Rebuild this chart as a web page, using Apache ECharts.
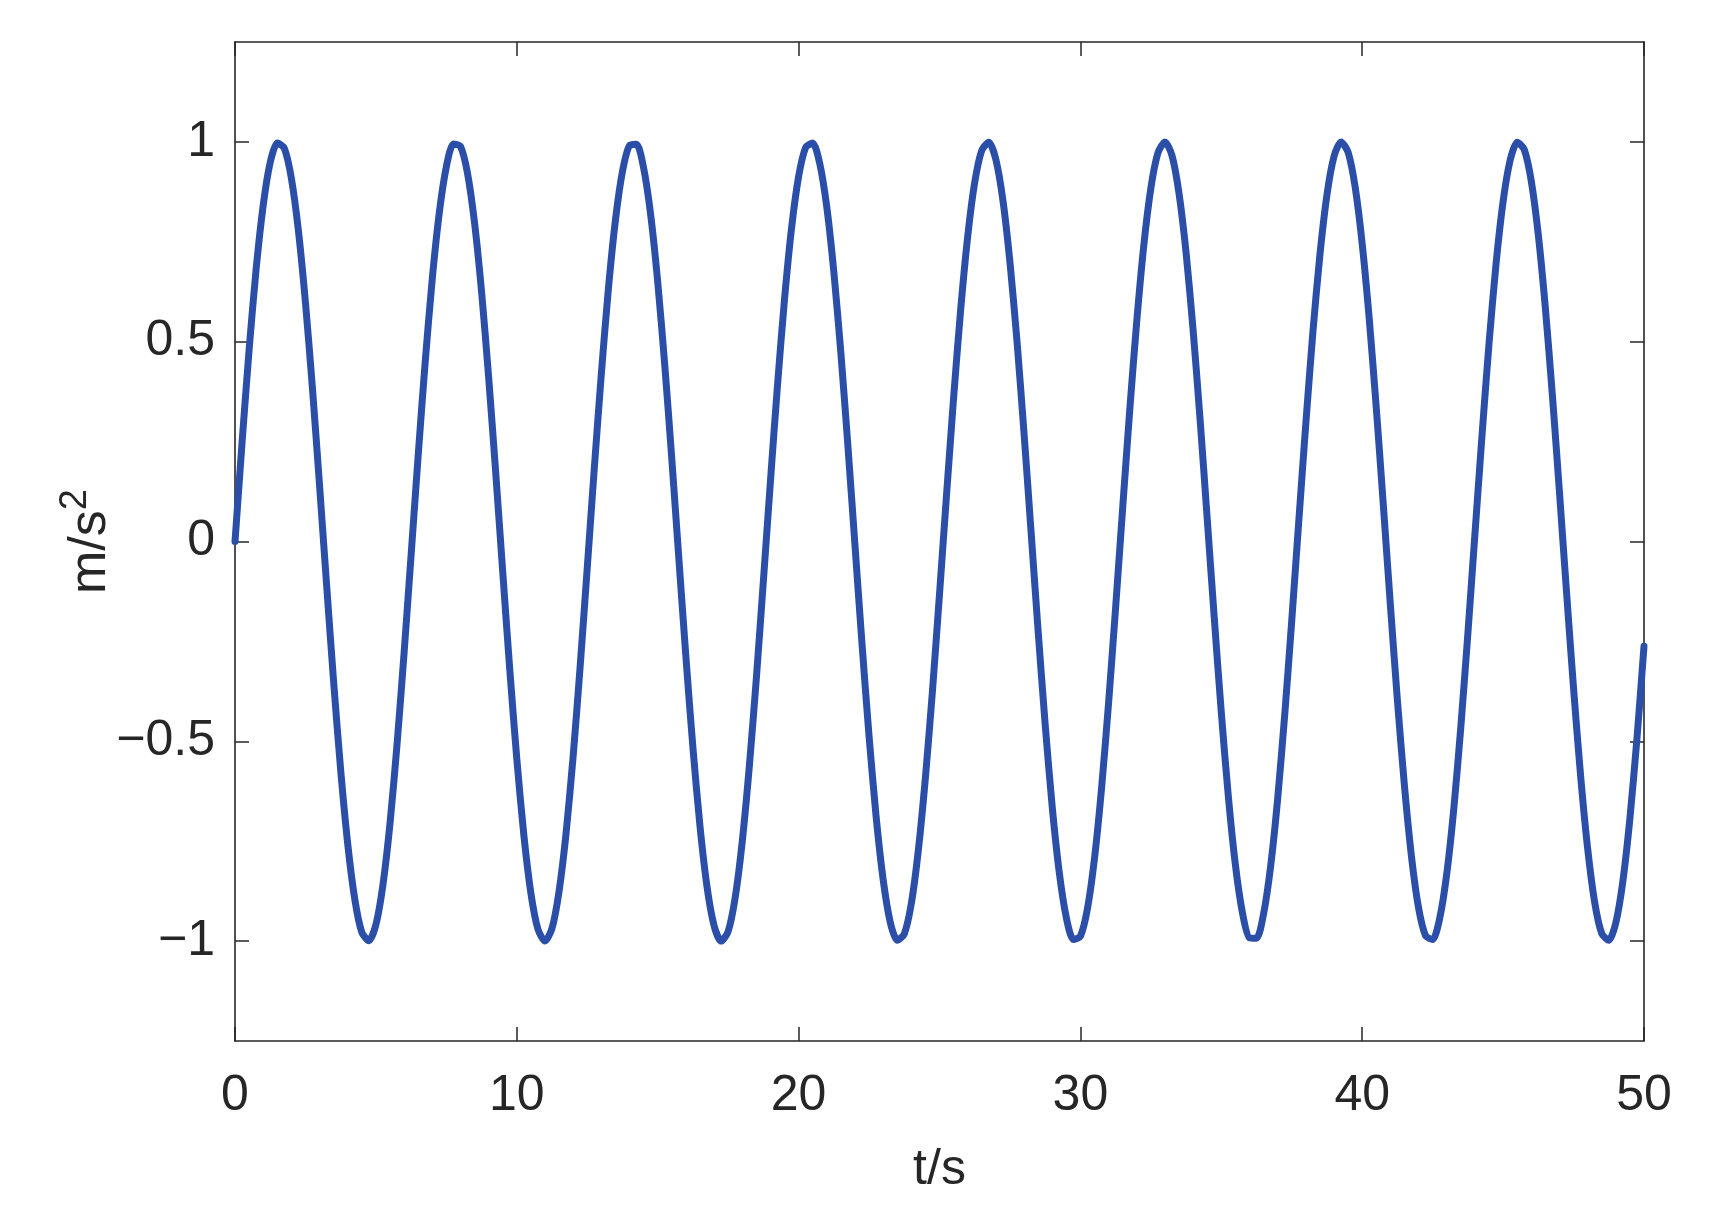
<!DOCTYPE html>
<html>
<head>
<meta charset="utf-8">
<script src="https://cdn.jsdelivr.net/npm/echarts@6/dist/echarts.min.js"></script>
<style>
html,body{margin:0;padding:0;background:#fff;}
#chart{width:1713px;height:1215px;}
</style>
</head>
<body>
<div id="chart"></div>
<script>
// time samples (s), every 0.25 s from 0 to 50
var times = [];
for (var i = 0; i <= 200; i++) times.push(i * 0.25);
// acceleration (m/s^2) at each time sample
var accel = [
 0.000, 0.247, 0.479, 0.682, 0.841, 0.949, 0.997, 0.984, 0.909, 0.778, 0.598, 0.382, 0.141,
 -0.108, -0.351, -0.572, -0.757, -0.895, -0.978, -0.999, -0.959, -0.859, -0.706, -0.508, -0.279, -0.033,
 0.215, 0.450, 0.657, 0.823, 0.938, 0.995, 0.989, 0.922, 0.798, 0.625, 0.412, 0.174,
 -0.075, -0.320, -0.544, -0.735, -0.880, -0.970, -1.000, -0.968, -0.875, -0.729, -0.537, -0.311, -0.066,
 0.183, 0.420, 0.632, 0.804, 0.926, 0.991, 0.994, 0.935, 0.818, 0.650, 0.442, 0.207,
 -0.042, -0.288, -0.516, -0.712, -0.864, -0.961, -1.000, -0.976, -0.891, -0.751, -0.564, -0.343, -0.099,
 0.150, 0.390, 0.606, 0.784, 0.913, 0.986, 0.997, 0.946, 0.837, 0.675, 0.472, 0.239,
 -0.009, -0.256, -0.487, -0.688, -0.846, -0.952, -0.998, -0.982, -0.906, -0.772, -0.591, -0.374, -0.132,
 0.117, 0.359, 0.579, 0.763, 0.899, 0.979, 0.999, 0.956, 0.854, 0.699, 0.501, 0.271, 0.024,
 -0.224, -0.458, -0.664, -0.828, -0.941, -0.996, -0.988, -0.919, -0.793, -0.618, -0.404, -0.165,
 0.084, 0.328, 0.551, 0.741, 0.884, 0.972, 1.000, 0.966, 0.871, 0.723, 0.529, 0.303, 0.057,
 -0.191, -0.428, -0.638, -0.809, -0.929, -0.992, -0.993, -0.932, -0.813, -0.644, -0.434, -0.198,
 0.051, 0.296, 0.524, 0.718, 0.868, 0.964, 1.000, 0.974, 0.887, 0.745, 0.557, 0.334, 0.091,
 -0.159, -0.398, -0.612, -0.789, -0.917, -0.987, -0.996, -0.943, -0.832, -0.669, -0.464, -0.230,
 0.018, 0.264, 0.495, 0.695, 0.851, 0.954, 0.999, 0.981, 0.902, 0.767, 0.584, 0.365, 0.124,
 -0.126, -0.367, -0.586, -0.768, -0.903, -0.981, -0.998, -0.954, -0.850, -0.693, -0.493, -0.262
];
var xTicks = [0, 10, 20, 30, 40, 50];
var yTicks = [-1, -0.5, 0, 0.5, 1];
var xName = 't/s';
var yName = 'm/s';

var seriesData = times.map(function (t, i) { return [t, accel[i]]; });
var FONT = 'Liberation Sans';
var TXT = '#262626';
var LINE = '#262626';
function fmt(v) { return String(v).replace('-', '\u2212'); }

var chart = echarts.init(document.getElementById('chart'), null, {renderer: 'canvas'});
function axLine() { return {show: true, onZero: false, lineStyle: {color: LINE, width: 1.6}}; }
function axTick(vals) {
  var t = {show: true, inside: true, length: 14, lineStyle: {color: LINE, width: 1.5}};
  if (vals) t.customValues = vals;
  return t;
}
chart.setOption({
  backgroundColor: '#ffffff',
  animation: false,
  grid: {left: 235, right: 69, top: 42, bottom: 174, containLabel: false},
  xAxis: [{
    type: 'value', min: 0, max: 50, interval: 10, position: 'bottom',
    axisLine: axLine(), axisTick: axTick(),
    axisLabel: {show: true, color: TXT, fontFamily: FONT, fontSize: 50, margin: 30, formatter: fmt,
      customValues: xTicks},
    splitLine: {show: false},
    name: xName, nameLocation: 'middle', nameGap: 104, nameMoveOverlap: false,
    nameTextStyle: {color: TXT, fontFamily: FONT, fontSize: 50}
  }, {
    type: 'value', min: 0, max: 50, interval: 10, position: 'top',
    axisLine: axLine(), axisTick: axTick(),
    axisLabel: {show: false}, splitLine: {show: false}
  }],
  yAxis: [{
    type: 'value', min: -1.25, max: 1.25, interval: 0.25, position: 'left',
    axisLine: axLine(), axisTick: axTick(yTicks),
    axisLabel: {show: true, color: TXT, fontFamily: FONT, fontSize: 50, margin: 20, formatter: fmt,
      customValues: yTicks},
    splitLine: {show: false},
    name: yName + '{sup|2}', nameLocation: 'middle', nameGap: 110, nameRotate: 90, nameMoveOverlap: false,
    nameTextStyle: {color: TXT, fontFamily: FONT, fontSize: 52,
      rich: {sup: {fontFamily: FONT, fontSize: 38, color: TXT, verticalAlign: 'top', padding: [0, 0, 30, 0]}}}
  }, {
    type: 'value', min: -1.25, max: 1.25, interval: 0.25, position: 'right',
    axisLine: axLine(), axisTick: axTick(yTicks),
    axisLabel: {show: false}, splitLine: {show: false}
  }],
  series: [{
    type: 'line', xAxisIndex: 0, yAxisIndex: 0,
    data: seriesData, smooth: 0.25, showSymbol: false, symbol: 'none',
    lineStyle: {color: '#2B4FA8', width: 7, join: 'round', cap: 'round'},
    clip: true
  }]
});
</script>
</body>
</html>
